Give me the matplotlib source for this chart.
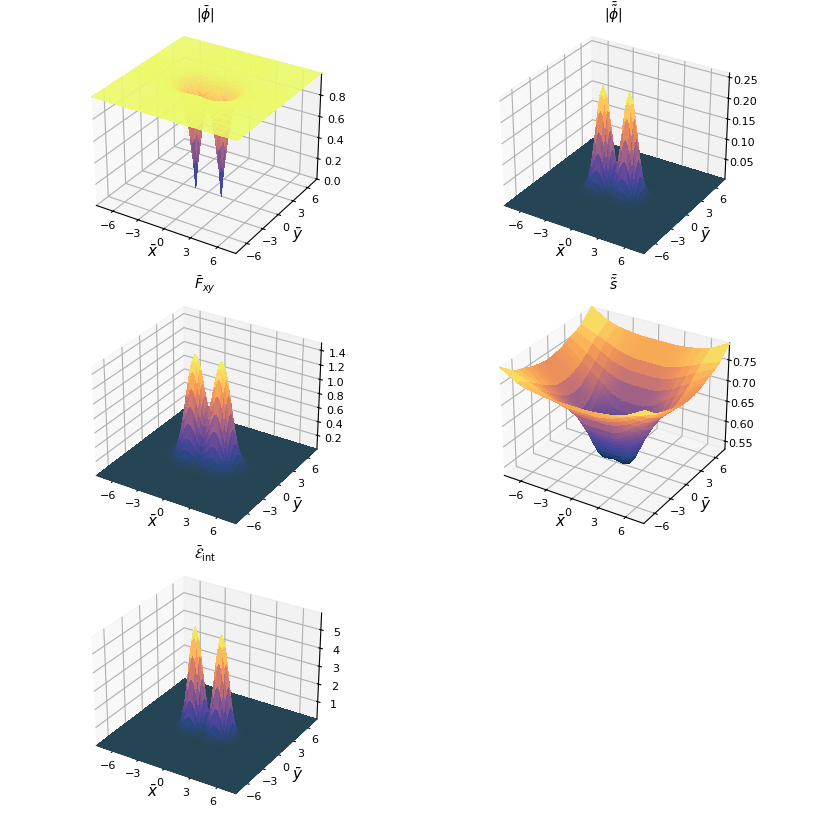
import numpy as np
import matplotlib
matplotlib.use('Agg')
import matplotlib.pyplot as plt
from matplotlib.colors import LinearSegmentedColormap

# grid for one quadrant, the other three are mirrored
xs = [0, .25, .5, .75, 1, 1.25, 1.5, 1.75, 2, 2.25, 2.5, 2.75, 3, 3.25, 3.5, 4, 5, 6, 8]
ys = [0, .25, .5, .75, 1, 1.25, 1.5, 1.75, 2, 2.25, 2.5, 3, 4, 5, 6, 8]

phi = [
    [.819, .798, .735, .621, .456, .243, 0, .244, .461, .634, .762, .848, .905, .941, .964, .987, .999, 1, 1],
    [.826, .807, .747, .644, .5, .337, .244, .339, .506, .658, .774, .855, .909, .944, .965, .987, .999, 1, 1],
    [.845, .828, .781, .702, .602, .503, .46, .505, .608, .716, .807, .873, .919, .949, .968, .988, .999, 1, 1],
    [.87, .858, .825, .773, .708, .653, .632, .656, .715, .786, .848, .898, .933, .956, .973, .989, .999, 1, 1],
    [.897, .89, .868, .836, .8, .769, .759, .772, .806, .848, .888, .922, .947, .965, .977, .991, .999, 1, 1],
    [.922, .918, .905, .887, .867, .851, .845, .853, .872, .898, .922, .944, .96, .973, .982, .993, 1, 1, 1],
    [.945, .941, .935, .925, .913, .905, .902, .907, .918, .933, .947, .96, .972, .98, .987, .994, 1, 1, 1],
    [.96, .959, .955, .949, .944, .94, .938, .941, .948, .955, .965, .973, .98, .986, .99, .995, 1, 1, 1],
    [.974, .972, .97, .967, .963, .962, .961, .962, .966, .972, .977, .982, .987, .99, .993, .996, 1, 1, 1],
    [.984, .983, .982, .98, .978, .977, .977, .977, .979, .982, .985, .988, .991, .993, .995, .997, 1, 1, 1],
    [.99, .989, .989, .988, .987, .986, .986, .986, .987, .988, .99, .992, .994, .995, .996, .998, 1, 1, 1],
    [.996, .996, .996, .995, .995, .995, .995, .995, .995, .996, .996, .997, .998, .998, .998, .999, 1, 1, 1],
    [1, 1, 1, 1, 1, 1, 1, 1, 1, 1, 1, 1, 1, 1, 1, 1, 1, 1, 1],
    [1, 1, 1, 1, 1, 1, 1, 1, 1, 1, 1, 1, 1, 1, 1, 1, 1, 1, 1],
    [1, 1, 1, 1, 1, 1, 1, 1, 1, 1, 1, 1, 1, 1, 1, 1, 1, 1, 1],
    [1, 1, 1, 1, 1, 1, 1, 1, 1, 1, 1, 1, 1, 1, 1, 1, 1, 1, 1],
]
phi_t = [
    [.063, .074, .105, .151, .199, .236, .25, .236, .198, .149, .099, .059, .031, .015, .006, .001, 0, 0, 0],
    [.059, .070, .099, .143, .188, .223, .236, .223, .187, .141, .093, .056, .029, .014, .006, .001, 0, 0, 0],
    [.050, .059, .083, .120, .158, .187, .198, .187, .157, .118, .079, .047, .025, .012, .005, .001, 0, 0, 0],
    [.037, .044, .062, .090, .118, .140, .149, .140, .118, .089, .059, .035, .018, .009, .004, .001, 0, 0, 0],
    [.025, .029, .042, .060, .079, .093, .099, .093, .078, .059, .039, .023, .012, .006, .002, 0, 0, 0, 0],
    [.015, .017, .025, .035, .047, .055, .059, .055, .047, .035, .023, .014, .007, .004, .001, 0, 0, 0, 0],
    [.008, .009, .013, .019, .025, .030, .031, .030, .025, .019, .012, .007, .004, .002, .001, 0, 0, 0, 0],
    [.004, .004, .006, .009, .012, .014, .015, .014, .012, .009, .006, .003, .002, .001, 0, 0, 0, 0, 0],
    [.002, .002, .003, .004, .005, .006, .006, .006, .005, .004, .002, .001, .001, 0, 0, 0, 0, 0, 0],
    [.001, .001, .001, .001, .002, .002, .002, .002, .002, .001, .001, 0, 0, 0, 0, 0, 0, 0, 0],
    [0, 0, 0, 0, .001, .001, .001, .001, .001, 0, 0, 0, 0, 0, 0, 0, 0, 0, 0],
    [0, 0, 0, 0, 0, 0, 0, 0, 0, 0, 0, 0, 0, 0, 0, 0, 0, 0, 0],
    [0, 0, 0, 0, 0, 0, 0, 0, 0, 0, 0, 0, 0, 0, 0, 0, 0, 0, 0],
    [0, 0, 0, 0, 0, 0, 0, 0, 0, 0, 0, 0, 0, 0, 0, 0, 0, 0, 0],
    [0, 0, 0, 0, 0, 0, 0, 0, 0, 0, 0, 0, 0, 0, 0, 0, 0, 0, 0],
    [0, 0, 0, 0, 0, 0, 0, 0, 0, 0, 0, 0, 0, 0, 0, 0, 0, 0, 0],
]
fxy = [
    [.77, .81, .94, 1.11, 1.29, 1.41, 1.46, 1.40, 1.25, 1.04, .80, .58, .38, .24, .14, .04, 0, 0, 0],
    [.74, .78, .90, 1.07, 1.24, 1.36, 1.40, 1.35, 1.21, 1.00, .77, .56, .37, .23, .13, .03, 0, 0, 0],
    [.66, .70, .81, .96, 1.11, 1.22, 1.26, 1.21, 1.08, .90, .69, .50, .33, .20, .12, .03, 0, 0, 0],
    [.55, .58, .67, .80, .92, 1.01, 1.04, 1.00, .90, .75, .58, .41, .27, .17, .10, .03, 0, 0, 0],
    [.42, .45, .52, .61, .71, .78, .81, .77, .69, .58, .44, .32, .21, .13, .08, .02, 0, 0, 0],
    [.30, .32, .37, .44, .51, .56, .58, .56, .50, .41, .32, .23, .15, .09, .05, .01, 0, 0, 0],
    [.20, .21, .25, .29, .34, .37, .38, .37, .33, .27, .21, .15, .10, .06, .04, .01, 0, 0, 0],
    [.12, .13, .15, .18, .21, .23, .24, .23, .20, .17, .13, .09, .06, .04, .02, .01, 0, 0, 0],
    [.07, .08, .09, .10, .12, .13, .14, .13, .12, .10, .08, .05, .04, .02, .01, 0, 0, 0, 0],
    [.04, .04, .05, .06, .06, .07, .07, .07, .06, .05, .04, .03, .02, .01, .01, 0, 0, 0, 0],
    [.02, .02, .02, .03, .03, .04, .04, .04, .03, .03, .02, .01, .01, .01, 0, 0, 0, 0, 0],
    [0, 0, 0, .01, .01, .01, .01, .01, .01, .01, 0, 0, 0, 0, 0, 0, 0, 0, 0],
    [0, 0, 0, 0, 0, 0, 0, 0, 0, 0, 0, 0, 0, 0, 0, 0, 0, 0, 0],
    [0, 0, 0, 0, 0, 0, 0, 0, 0, 0, 0, 0, 0, 0, 0, 0, 0, 0, 0],
    [0, 0, 0, 0, 0, 0, 0, 0, 0, 0, 0, 0, 0, 0, 0, 0, 0, 0, 0],
    [0, 0, 0, 0, 0, 0, 0, 0, 0, 0, 0, 0, 0, 0, 0, 0, 0, 0, 0],
]
s_t = [
    [.541, .54, .538, .537, .536, .536, .538, .545, .552, .562, .575, .587, .60, .611, .621, .641, .672, .693, .733],
    [.541, .54, .539, .538, .537, .537, .539, .546, .553, .564, .576, .588, .601, .611, .621, .642, .672, .693, .733],
    [.544, .543, .542, .541, .54, .541, .544, .55, .556, .568, .58, .591, .603, .613, .623, .643, .673, .694, .734],
    [.549, .549, .548, .548, .547, .548, .551, .555, .563, .573, .585, .595, .607, .616, .625, .645, .674, .694, .734],
    [.556, .556, .555, .555, .555, .556, .559, .564, .572, .581, .591, .601, .611, .62, .629, .647, .676, .695, .734],
    [.567, .567, .567, .567, .567, .568, .57, .575, .582, .59, .599, .608, .616, .625, .633, .65, .677, .696, .735],
    [.58, .58, .58, .58, .58, .58, .582, .586, .592, .60, .607, .614, .622, .63, .638, .653, .679, .697, .736],
    [.592, .592, .592, .592, .592, .593, .595, .598, .604, .609, .615, .621, .628, .636, .644, .657, .68, .699, .737],
    [.605, .605, .605, .605, .605, .605, .607, .609, .613, .617, .623, .629, .635, .643, .649, .661, .683, .701, .738],
    [.615, .615, .615, .615, .615, .616, .617, .619, .622, .626, .631, .637, .643, .648, .654, .665, .685, .703, .739],
    [.625, .625, .625, .625, .625, .625, .626, .628, .631, .635, .64, .645, .649, .654, .659, .67, .688, .705, .74],
    [.645, .645, .645, .645, .645, .645, .646, .647, .649, .651, .654, .658, .661, .666, .67, .678, .693, .71, .743],
    [.675, .675, .675, .675, .675, .675, .675, .676, .677, .678, .68, .682, .684, .686, .688, .694, .707, .72, .749],
    [.695, .695, .695, .695, .695, .695, .695, .696, .697, .698, .699, .70, .702, .704, .706, .711, .722, .735, .755],
    [.715, .715, .715, .715, .715, .715, .715, .715, .716, .717, .718, .719, .721, .722, .724, .728, .737, .746, .762],
    [.75, .75, .75, .75, .75, .75, .75, .75, .75, .751, .751, .752, .752, .753, .754, .755, .759, .766, .79],
]
e_int = [
    [.92, 1.17, 1.91, 3.02, 4.24, 5.22, 5.6, 5.22, 4.24, 3.00, 1.84, .99, .46, .18, .07, .01, 0, 0, 0],
    [.86, 1.09, 1.78, 2.82, 3.96, 4.87, 5.22, 4.87, 3.96, 2.80, 1.72, .92, .43, .17, .07, .01, 0, 0, 0],
    [.70, .89, 1.45, 2.29, 3.21, 3.95, 4.24, 3.95, 3.21, 2.27, 1.39, .75, .35, .14, .05, .01, 0, 0, 0],
    [.49, .63, 1.02, 1.62, 2.27, 2.79, 3.00, 2.79, 2.27, 1.61, .98, .53, .25, .10, .04, .01, 0, 0, 0],
    [.30, .38, .63, .99, 1.39, 1.72, 1.84, 1.72, 1.39, .99, .61, .33, .15, .06, .02, 0, 0, 0, 0],
    [.16, .21, .34, .53, .75, .92, .99, .92, .75, .53, .32, .17, .08, .03, .01, 0, 0, 0, 0],
    [.08, .10, .16, .25, .35, .43, .46, .43, .35, .25, .15, .08, .04, .01, .01, 0, 0, 0, 0],
    [.03, .04, .06, .10, .14, .17, .18, .17, .14, .10, .06, .03, .02, .01, 0, 0, 0, 0, 0],
    [.01, .01, .02, .04, .05, .06, .07, .06, .05, .04, .02, .01, .01, 0, 0, 0, 0, 0, 0],
    [0, 0, .01, .01, .02, .02, .02, .02, .02, .01, .01, 0, 0, 0, 0, 0, 0, 0, 0],
    [0, 0, 0, 0, .01, .01, .01, .01, .01, 0, 0, 0, 0, 0, 0, 0, 0, 0, 0],
    [0, 0, 0, 0, 0, 0, 0, 0, 0, 0, 0, 0, 0, 0, 0, 0, 0, 0, 0],
    [0, 0, 0, 0, 0, 0, 0, 0, 0, 0, 0, 0, 0, 0, 0, 0, 0, 0, 0],
    [0, 0, 0, 0, 0, 0, 0, 0, 0, 0, 0, 0, 0, 0, 0, 0, 0, 0, 0],
    [0, 0, 0, 0, 0, 0, 0, 0, 0, 0, 0, 0, 0, 0, 0, 0, 0, 0, 0],
    [0, 0, 0, 0, 0, 0, 0, 0, 0, 0, 0, 0, 0, 0, 0, 0, 0, 0, 0],
]

titles = [r'$|\bar{\phi}|$', r'$|\bar{\tilde{\phi}}|$', r'$\bar{F}_{xy}$',
          r'$\bar{\tilde{s}}$', r'$\bar{\mathcal{E}}_{\mathrm{int}}$']
tables = [phi, phi_t, fxy, s_t, e_int]
zlims = [(0, 1.0), (0, .26), (0, 1.5), (.53, .79), (0, 5.9)]
zticks = [[0, .2, .4, .6, .8], [.05, .1, .15, .2, .25],
          [.2, .4, .6, .8, 1.0, 1.2, 1.4], [.55, .6, .65, .7, .75], [1, 2, 3, 4, 5]]
zfmt = ['%.1f', '%.2f', '%.1f', '%.2f', '%d']
ticks = [-6, -3, 0, 3, 6]

# thermal-like colours, already blended with the light background
stops = [(.17, .28, .52), (.32, .27, .62), (.48, .32, .57), (.65, .39, .52),
         (.84, .48, .42), (.97, .62, .33), (.99, .82, .37), (.92, .98, .41)]
thermal = LinearSegmentedColormap.from_list('thermal', [(.15, .27, .33)] + stops)
thermal_dark = LinearSegmentedColormap.from_list('thermal_dark', [(.02, .15, .25)] + stops)
cmaps = [thermal_dark, thermal, thermal, thermal_dark, thermal]
alphas = [.88, 1, 1, 1, 1]

full_x = np.array([-v for v in xs[:0:-1]] + xs)
full_y = np.array([-v for v in ys[:0:-1]] + ys)
X, Y = np.meshgrid(full_x, full_y)

fig = plt.figure(figsize=(8.17, 8.17), dpi=100)
centres = [(205, 143), (613, 143), (205, 413), (613, 413), (205, 683)]
size = 254 / 817

for i in range(5):
    cx, cy = centres[i]
    ax = fig.add_axes([cx / 817 - size / 2, 1 - cy / 817 - size / 2, size, size], projection='3d')
    ax.view_init(elev=29, azim=-58)
    q = np.array(tables[i], dtype=float)
    q = np.hstack([q[:, :0:-1], q])
    q = np.vstack([q[:0:-1, :], q])
    ax.plot_surface(X, Y, q, cmap=cmaps[i], alpha=alphas[i], linewidth=0, rcount=50, ccount=50,
                    vmin=q.min(), vmax=q.max(), antialiased=False)
    ax.set_xlim(-8, 8)
    ax.set_ylim(-8, 8)
    ax.set_zlim(*zlims[i])
    ax.set_xticks(ticks)
    ax.set_yticks(ticks)
    ax.set_zticks(zticks[i])
    ax.set_zticklabels([zfmt[i] % v for v in zticks[i]])
    ax.tick_params(labelsize=8, pad=-3)
    ax.tick_params(axis='z', pad=-1)
    ax.yaxis.set_rotate_label(False)
    ax.xaxis.set_rotate_label(False)
    ax.set_xlabel(r'$\bar{x}$', fontsize=11, labelpad=-9)
    ax.set_ylabel(r'$\bar{y}$', fontsize=11, labelpad=-8)
    ax.set_title(titles[i], fontsize=10, y=1.07, pad=0)

fig.savefig('out.png', dpi=100)
